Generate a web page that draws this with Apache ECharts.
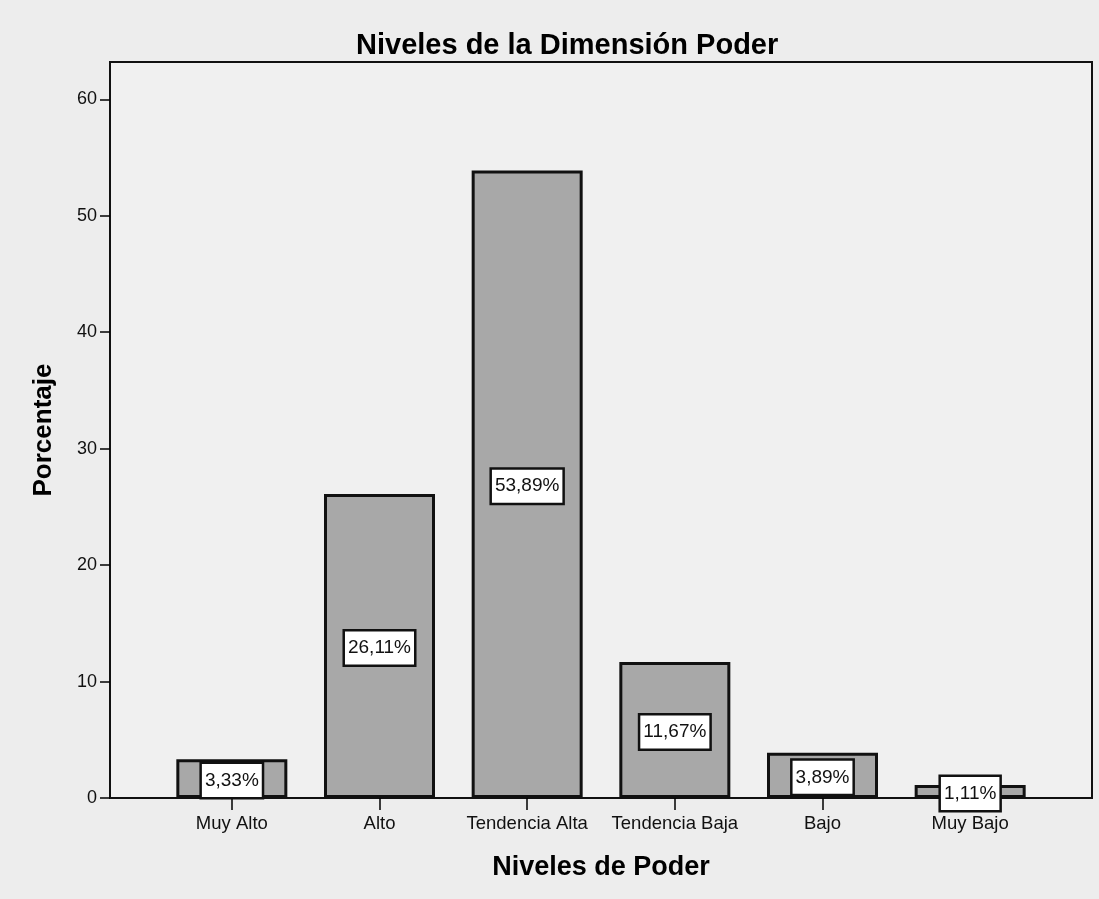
<!DOCTYPE html>
<html>
<head>
<meta charset="utf-8">
<script src="https://cdn.jsdelivr.net/npm/echarts@6/dist/echarts.min.js"></script>
<style>
html,body{margin:0;padding:0;background:#ededed;}
#c{width:1099px;height:899px;}
</style>
</head>
<body>
<div id="c"></div>
<script>
const categories = ['Muy Alto', 'Alto', 'Tendencia Alta', 'Tendencia Baja', 'Bajo', 'Muy Bajo'];
const percentages = [3.33, 26.11, 53.89, 11.67, 3.89, 1.11];
const yTicks = [0, 10, 20, 30, 40, 50, 60];
const yMax = 63.2;

const chart = echarts.init(document.getElementById('c'), null, {renderer: 'canvas'});
const font = '"Liberation Sans", Arial, sans-serif';
chart.setOption({
  backgroundColor: '#ededed',
  animation: false,
  title: {
    text: 'Niveles de la Dimensión Poder',
    left: 351, top: 26,
    textStyle: {fontFamily: font, fontSize: 29, fontWeight: 'bold', color: '#000'}
  },
  grid: [
    {left: 110, right: 7, top: 62, bottom: 101, show: true, backgroundColor: '#f0f0f0', borderColor: '#111', borderWidth: 2},
    {left: 158, right: 55, top: 62, bottom: 101}
  ],
  xAxis: [
    {gridIndex: 0, type: 'value', show: false, min: 0, max: 1},
    {
      gridIndex: 1, type: 'category', data: categories,
      axisLine: {show: false},
      axisTick: {show: true, alignWithLabel: true, interval: 0, length: 12, lineStyle: {color: '#000', width: 1.5}},
      axisLabel: {interval: 0, hideOverlap: false, fontFamily: font, fontSize: 18.5, color: '#111', margin: 16},
      name: 'Niveles de Poder', nameLocation: 'middle', nameGap: 56,
      nameTextStyle: {fontFamily: font, fontSize: 27, fontWeight: 'bold', color: '#000'}
    }
  ],
  yAxis: [
    {
      gridIndex: 0, type: 'value', min: 0, max: yMax,
      axisLine: {show: false},
      splitLine: {show: false},
      axisTick: {show: true, length: 10, customValues: yTicks, lineStyle: {color: '#000', width: 1.5}},
      axisLabel: {customValues: yTicks, fontFamily: font, fontSize: 18, color: '#111', margin: 13},
      name: 'Porcentaje', nameLocation: 'middle', nameGap: 53, nameRotate: 90,
      nameTextStyle: {fontFamily: font, fontSize: 26, fontWeight: 'bold', color: '#000'}
    },
    {gridIndex: 1, type: 'value', min: 0, max: yMax, show: false}
  ],
  series: [{
    type: 'bar', xAxisIndex: 1, yAxisIndex: 1,
    data: percentages,
    barWidth: 111,
    itemStyle: {color: '#a8a8a8', borderColor: '#111', borderWidth: 3},
    label: {
      show: true, position: 'inside', offset: [0, 2],
      formatter: p => p.value.toFixed(2).replace('.', ',') + '%',
      fontFamily: font, fontSize: 19, color: '#111', lineHeight: 20,
      backgroundColor: '#fff', borderColor: '#111', borderWidth: 2.5,
      padding: [7, 3, 6, 3]
    }
  }]
});
</script>
</body>
</html>
